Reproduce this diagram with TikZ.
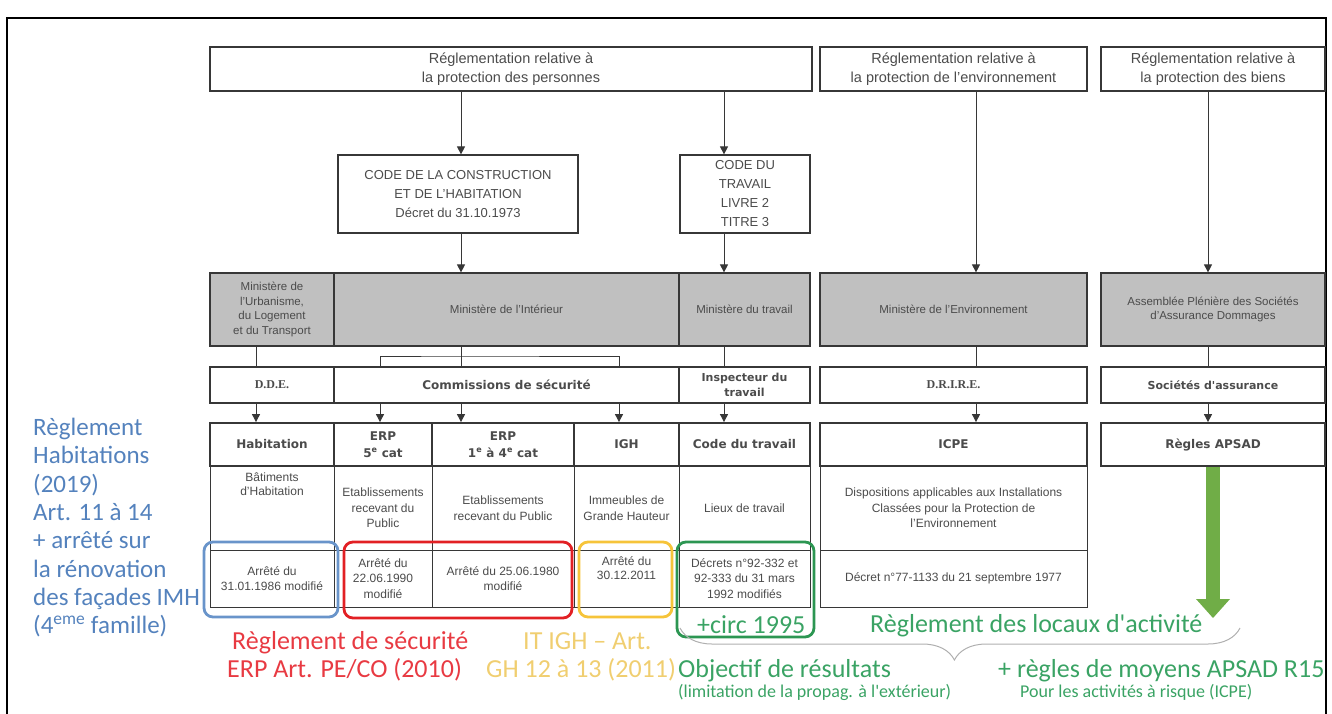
\documentclass[tikz,border=0pt]{standalone}
\usepackage{fontspec}
\setmainfont{Liberation Sans}
\newfontfamily\calfont{Carlito}
\newfontfamily\verdfont{DejaVu Sans}
\newfontfamily\timesfont{Liberation Serif}
\usetikzlibrary{arrows.meta,calc,decorations.pathreplacing}
\definecolor{tab_text}{RGB}{75, 75, 75}
\definecolor{tab_line}{RGB}{55, 55, 55}
\definecolor{min_gray}{RGB}{192, 192, 192}
\definecolor{hl_blue}{RGB}{105, 148, 202}
\definecolor{txt_blue}{RGB}{84, 130, 189}
\definecolor{hl_red}{RGB}{226, 32, 36}
\definecolor{txt_red}{RGB}{232, 58, 66}
\definecolor{hl_yellow}{RGB}{246, 196, 58}
\definecolor{txt_yellow}{RGB}{240, 206, 112}
\definecolor{hl_green}{RGB}{44, 150, 82}
\definecolor{txt_green}{RGB}{58, 163, 100}
\definecolor{arr_green}{RGB}{112, 173, 71}
\definecolor{brace_gray}{RGB}{175, 175, 175}
\tikzstyle{cell}=[rectangle,draw=tab_line,line width=1.2pt,text=tab_text,
  align=center,inner sep=0pt]
\tikzstyle{topbox}=[cell,minimum height=44pt,font=\fontsize{14.5}{19}\selectfont]
\tikzstyle{codebox}=[cell,minimum height=78pt,font=\fontsize{13}{19}\selectfont]
\tikzstyle{minbox}=[cell,fill=min_gray,minimum height=73pt,
  font=\fontsize{11.5}{14.5}\selectfont]
\tikzstyle{combox}=[cell,minimum height=36pt,
  font=\verdfont\bfseries\fontsize{12}{15}\selectfont]
\tikzstyle{catbox}=[cell,line width=1.8pt,minimum height=43pt,
  font=\verdfont\bfseries\fontsize{12}{17}\selectfont]
\tikzstyle{descbox}=[cell,line width=1pt,minimum height=84pt,
  font=\fontsize{12}{15.5}\selectfont]
\tikzstyle{decbox}=[cell,line width=1pt,minimum height=57pt,
  font=\fontsize{12}{15.5}\selectfont]
\tikzstyle{arr}=[draw=tab_line,line width=0.9pt,-{Triangle[width=8pt,length=8pt]}]
\tikzstyle{ln}=[draw=tab_line,line width=0.9pt]
\tikzstyle{hl}=[rounded corners=9pt,line width=2.8pt]
\tikzstyle{notetext}=[anchor=base west,inner sep=0pt,
  font=\calfont\fontsize{26}{30}\selectfont]
\tikzstyle{smallnote}=[notetext,font=\calfont\fontsize{18}{22}\selectfont]

\begin{document}
\begin{tikzpicture}[x=1pt,y=-1pt]
    \useasboundingbox (0,0) rectangle (1332,714);
    \draw[line width=1.6pt] (7,714) -- (7,18) -- (1326,18) -- (1326,714);
    % column axes
    \coordinate (xhab) at (256,0);
    \coordinate (xerp5) at (380,0);
    \coordinate (xint) at (461,0);
    \coordinate (xigh) at (619,0);
    \coordinate (xtrav) at (724,0);
    \coordinate (xenv) at (976,0);
    \coordinate (xass) at (1208,0);
    \coordinate (xapsad) at (1213,0);
    \coordinate (bra) at (461,356);
    % regulations
    \node [style=topbox, minimum width=602pt] (pers) at (511,69) {Réglementation relative à\\la protection des personnes};
    \node [style=topbox, minimum width=267pt] (env) at (953.5,69) {Réglementation relative à\\la protection de l'environnement};
    \node [style=topbox, minimum width=224pt] (biens) at (1213,69) {Réglementation relative à\\la protection des biens};
    \node [style=codebox, minimum width=240pt] (cch) at (458,194) {CODE DE LA CONSTRUCTION\\ET DE L'HABITATION\\Décret du 31.10.1973};
    \node [style=codebox, minimum width=130pt] (codetrav) at (745,194) {CODE DU\\TRAVAIL\\LIVRE 2\\TITRE 3};
    % ministries
    \node [style=minbox, minimum width=124pt] (minurb) at (272,309.5) {Ministère de\\l'Urbanisme,\\du Logement\\et du Transport};
    \node [style=minbox, minimum width=345pt] (minint) at (506.5,309.5) {Ministère de l'Intérieur};
    \node [style=minbox, minimum width=131pt] (mintrav) at (744.5,309.5) {Ministère du travail};
    \node [style=minbox, minimum width=267pt] (minenv) at (953.5,309.5) {Ministère de l'Environnement};
    \node [style=minbox, minimum width=224pt] (minass) at (1213,309.5) {Assemblée Plénière des Sociétés\\d'Assurance Dommages};
    % services
    \node [style=combox, minimum width=124pt] (dde) at (272,385) {\timesfont D.D.E.};
    \node [style=combox, minimum width=345pt] (comm) at (506.5,385) {Commissions de sécurité};
    \node [style=combox, minimum width=131pt, font=\verdfont\bfseries\fontsize{11}{15}\selectfont] (insp) at (744.5,385) {Inspecteur du\\travail};
    \node [style=combox, minimum width=267pt] (drire) at (953.5,385) {\timesfont D.R.I.R.E.};
    \node [style=combox, minimum width=224pt, font=\verdfont\bfseries\fontsize{11}{15}\selectfont] (soc) at (1213,385) {Sociétés d'assurance};
    % descriptions
    \node [style=descbox, minimum width=124pt, label={[anchor=north, inner sep=0pt, align=center, text=tab_text, font=\fontsize{12}{14}\selectfont]north:{\rule{0pt}{16pt}Bâtiments\\d'Habitation}}] (dhab) at (272,508) {};
    \node [style=descbox, minimum width=98pt] (derp5) at (383,508) {Etablissements\\recevant du\\Public};
    \node [style=descbox, minimum width=142pt] (derp14) at (503,508) {Etablissements\\recevant du Public};
    \node [style=descbox, minimum width=105pt] (digh) at (626.5,508) {Immeubles de\\Grande Hauteur};
    \node [style=descbox, minimum width=131pt] (dctrav) at (744.5,508) {Lieux de travail};
    \node [style=descbox, minimum width=267pt] (dicpe) at (953.5,508) {Dispositions applicables aux Installations\\Classées pour la Protection de\\l'Environnement};
    % texts in force
    \node [style=decbox, minimum width=124pt] (ahab) at (272,578.5) {Arrêté du\\31.01.1986 modifié};
    \node [style=decbox, minimum width=98pt] (aerp5) at (383,578.5) {Arrêté du\\22.06.1990\\modifié};
    \node [style=decbox, minimum width=142pt] (aerp14) at (503,578.5) {Arrêté du 25.06.1980\\modifié};
    \node [style=decbox, minimum width=105pt, label={[anchor=north, inner sep=0pt, align=center, text=tab_text, font=\fontsize{12}{14}\selectfont]north:{\rule{0pt}{16pt}Arrêté du\\30.12.2011}}] (aigh) at (626.5,578.5) {};
    \node [style=decbox, minimum width=131pt] (actrav) at (744.5,578.5) {Décrets n°92-332 et\\92-333 du 31 mars\\1992 modifiés};
    \node [style=decbox, minimum width=267pt] (aicpe) at (953.5,578.5) {Décret n°77-1133 du 21 septembre 1977};
    % categories
    \node [style=catbox, minimum width=124pt] (hab) at (272,444.5) {Habitation};
    \node [style=catbox, minimum width=98pt] (erp5) at (383,444.5) {ERP\\5\textsuperscript{e} cat};
    \node [style=catbox, minimum width=142pt] (erp14) at (503,444.5) {ERP\\1\textsuperscript{e} à 4\textsuperscript{e} cat};
    \node [style=catbox, minimum width=105pt] (igh) at (626.5,444.5) {IGH};
    \node [style=catbox, minimum width=131pt] (ctrav) at (744.5,444.5) {Code du travail};
    \node [style=catbox, minimum width=267pt] (icpe) at (953.5,444.5) {ICPE};
    \node [style=catbox, minimum width=224pt] (apsad) at (1213,444.5) {Règles APSAD};
    % links
    \draw[arr] (pers.south -| xint) -- (cch.north -| xint);
    \draw[arr] (pers.south -| xtrav) -- (codetrav.north -| xtrav);
    \draw[arr] (cch.south -| xint) -- (minint.north -| xint);
    \draw[arr] (codetrav.south -| xtrav) -- (mintrav.north -| xtrav);
    \draw[arr] (env.south -| xenv) -- (minenv.north -| xenv);
    \draw[arr] (biens.south -| xass) -- (minass.north -| xass);
    \draw[ln] (minurb.south -| xhab) -- (dde.north -| xhab);
    \draw[ln] (minint.south -| xint) -- (comm.north -| xint);
    \draw[ln] (comm.north -| xerp5) |- (bra) -| (comm.north -| xigh);
    \draw[ln] (mintrav.south -| xtrav) -- (insp.north -| xtrav);
    \draw[ln] (minenv.south -| xenv) -- (drire.north -| xenv);
    \draw[ln] (minass.south -| xass) -- (soc.north -| xass);
    \draw[arr] (dde.south -| xhab) -- (hab.north -| xhab);
    \draw[arr] (comm.south -| xerp5) -- (erp5.north -| xerp5);
    \draw[arr] (comm.south -| xint) -- (erp14.north -| xint);
    \draw[arr] (comm.south -| xigh) -- (igh.north -| xigh);
    \draw[arr] (insp.south -| xtrav) -- (ctrav.north -| xtrav);
    \draw[arr] (drire.south -| xenv) -- (icpe.north -| xenv);
    \draw[arr] (soc.south -| xass) -- (apsad.north -| xass);
    % green arrow
    \coordinate (gend) at (1213,618);
    \draw[draw=arr_green, line width=14pt, -{Triangle[width=34pt,length=19pt,line width=0pt]}] (apsad.south -| xapsad) -- (gend);
    % highlights
    \draw[hl, draw=hl_blue] (204,542) rectangle (338,617);
    \draw[hl, draw=hl_red] (344,542) rectangle (572,618);
    \draw[hl, draw=hl_yellow] (579,542) rectangle (672,617);
    \draw[hl, draw=hl_green] (677,542) rectangle (814,637);
    % notes
    \node [anchor=north west, inner sep=0pt, align=left, text=txt_blue, font=\calfont\fontsize{25}{28.3}\selectfont] (reghab) at (33,418) {Règlement\\Habitations\\(2019)\\Art. 11 à 14\\+ arrêté sur\\la rénovation\\des façades IMH\\(4\textsuperscript{eme} famille)};
    \node [notetext, text=txt_red] (regerp1) at (232,649) {Règlement de sécurité};
    \node [notetext, text=txt_red] (regerp2) at (227,677) {ERP Art. PE/CO (2010)};
    \node [notetext, text=txt_yellow] (itigh1) at (523,649) {IT IGH – Art.};
    \node [notetext, text=txt_yellow] (itigh2) at (486,677) {GH 12 à 13 (2011)};
    \node [notetext, text=txt_green] (circ) at (697,633) {+circ 1995};
    \node [notetext, text=txt_green] (locaux) at (870,632) {Règlement des locaux d'activité};
    \node [notetext, text=txt_green] (objres) at (678,677) {Objectif de résultats};
    \node [smallnote, text=txt_green] (limprop) at (678,697) {(limitation de la propag. à l'extérieur)};
    \node [notetext, text=txt_green] (moyens) at (998,677) {+ règles de moyens APSAD R15};
    \node [smallnote, text=txt_green] (risque) at (1020,697) {Pour les activités à risque (ICPE)};
    % brace
    \coordinate (brr) at (1240,628);
    \coordinate (brl) at (680,628);
    \draw[draw=brace_gray, line width=1pt, decorate, decoration={brace, amplitude=32pt, aspect=0.51}] (brr) -- (brl);
\end{tikzpicture}
\end{document}
